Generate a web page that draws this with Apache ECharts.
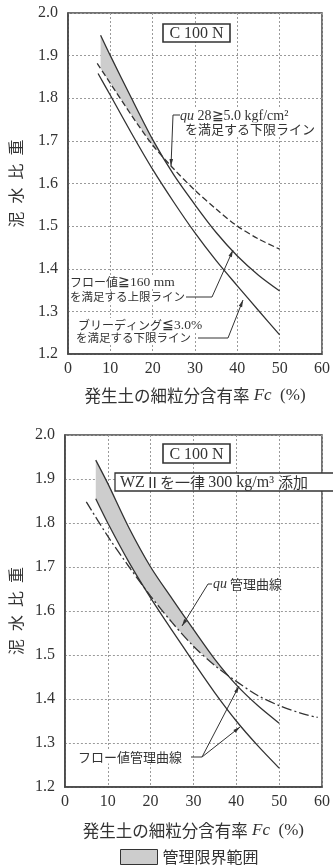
<!DOCTYPE html>
<html>
<head>
<meta charset="utf-8">
<script src="https://cdn.jsdelivr.net/npm/echarts/dist/echarts.min.js"></script>
<style>
html,body{margin:0;padding:0;background:#fff}
#chart{width:333px;height:867px}
</style>
</head>
<body>
<div id="chart"></div>
<script>
// ---- Upper panel: C 100 N ----
const topUpperFc   = [7.7, 10, 15, 20, 25, 30, 35, 40, 45, 50];
const topUpperDens = [1.948, 1.900, 1.800, 1.703, 1.620, 1.550, 1.485, 1.430, 1.385, 1.348];
const topQuFc      = [6.9, 10, 15, 20, 25, 30, 35, 40, 45, 50];
const topQuDens    = [1.882, 1.835, 1.760, 1.690, 1.634, 1.584, 1.540, 1.500, 1.470, 1.446];
const topBleedFc   = [7.1, 10, 15, 20, 25, 30, 35, 40, 45, 50];
const topBleedDens = [1.858, 1.807, 1.718, 1.633, 1.556, 1.484, 1.419, 1.360, 1.302, 1.245];
// shaded control range (upper panel)
const topBandFc   = [7.7, 10, 15, 20, 22.4];
const topBandLow  = [1.870, 1.835, 1.760, 1.690, 1.664];
const topBandHigh = [1.948, 1.900, 1.800, 1.703, 1.664];

// ---- Lower panel: C 100 N + WZII 300 kg/m3 ----
const botUpperFc   = [7.2, 10, 15, 20, 25, 30, 35, 40, 45, 50];
const botUpperDens = [1.943, 1.890, 1.788, 1.700, 1.628, 1.558, 1.490, 1.432, 1.385, 1.345];
const botLowerFc   = [7.2, 10, 15, 20, 25, 30, 35, 40, 45, 50];
const botLowerDens = [1.855, 1.800, 1.710, 1.630, 1.556, 1.484, 1.414, 1.350, 1.294, 1.243];
const botQuFc      = [5, 10, 15, 20, 25, 30, 35, 40, 45, 50, 55, 59];
const botQuDens    = [1.848, 1.770, 1.700, 1.634, 1.574, 1.520, 1.476, 1.440, 1.408, 1.385, 1.368, 1.358];
// shaded control range (lower panel)
const botBandFc   = [7.2, 10, 15, 19.5, 25, 30, 35, 38];
const botBandLow  = [1.855, 1.800, 1.710, 1.640, 1.574, 1.520, 1.476, 1.455];
const botBandHigh = [1.943, 1.890, 1.788, 1.709, 1.628, 1.558, 1.490, 1.455];

// ---- axes ----
const xTicks = [0, 10, 20, 30, 40, 50, 60];
const yTicks = [1.2, 1.3, 1.4, 1.5, 1.6, 1.7, 1.8, 1.9, 2.0];
const xTitle = '{j|発生土の細粒分含有率}{s| }{i|Fc}{s|  }{n|(%)}';
const yTitle = '泥\u2002水\u2002比\u2002重';
const legendName = '管理限界範囲';

const CJK = '"Noto Sans CJK JP"';
const SERIF = '"Liberation Serif"';
const INK = '#333';

const chart = echarts.init(document.getElementById('chart'), null, {renderer: 'canvas'});

function xAxis(grid, gap) {
  return {
    gridIndex: grid, type: 'value',
    min: xTicks[0], max: xTicks[xTicks.length - 1], interval: xTicks[1] - xTicks[0],
    axisLine: {show: true, lineStyle: {color: '#444', width: 1.5}},
    axisTick: {show: false},
    axisLabel: {margin: 7, fontFamily: SERIF, fontSize: 16, color: INK},
    splitLine: {show: true, lineStyle: {type: [2, 2], color: '#9a9a9a', width: 1}},
    name: xTitle, nameLocation: 'middle', nameGap: gap,
    nameTextStyle: {
      color: INK,
      rich: {
        j: {fontFamily: CJK, fontSize: 16.5, color: INK},
        s: {fontFamily: SERIF, fontSize: 17},
        i: {fontFamily: SERIF, fontSize: 17, fontStyle: 'italic', color: INK},
        n: {fontFamily: SERIF, fontSize: 17, color: INK}
      }
    }
  };
}
function yAxis(grid, gap) {
  return {
    gridIndex: grid, type: 'value',
    min: yTicks[0], max: yTicks[yTicks.length - 1], interval: 0.1,
    axisLine: {show: true, lineStyle: {color: '#444', width: 1.5}},
    axisTick: {show: false},
    axisLabel: {margin: 10, fontFamily: SERIF, fontSize: 16, color: INK,
      formatter: v => v.toFixed(1)},
    splitLine: {show: true, lineStyle: {type: [2, 2], color: '#9a9a9a', width: 1}},
    name: yTitle, nameLocation: 'middle', nameRotate: 90, nameGap: gap,
    nameTextStyle: {fontFamily: CJK, fontSize: 16, color: INK}
  };
}
function curve(grid, fc, dens, type) {
  return {
    type: 'line', xAxisIndex: grid, yAxisIndex: grid,
    data: fc.map((x, i) => [x, dens[i]]),
    smooth: 0.3, symbol: 'none', showSymbol: false, silent: true, z: 3,
    lineStyle: {color: INK, width: 1.3, type: type}
  };
}
function band(grid, fc, lo, hi) {
  return {
    type: 'custom', name: legendName, xAxisIndex: grid, yAxisIndex: grid,
    z: 1, silent: true,
    itemStyle: {color: '#cdcdcd'},
    data: fc.map((x, i) => [x, lo[i], hi[i]]),
    encode: {x: 0, y: [1, 2]},
    renderItem(params, api) {
      if (params.dataIndex !== 0) return;
      const upper = fc.map((x, i) => api.coord([x, hi[i]]));
      const lower = fc.map((x, i) => api.coord([x, lo[i]])).reverse();
      return {type: 'polygon', shape: {points: upper.concat(lower)},
              style: {fill: '#cdcdcd'}};
    }
  };
}

// annotation helpers (pixel space)
function leader(pts) {
  const n = pts.length;
  const [x1, y1] = pts[n - 2], [x2, y2] = pts[n - 1];
  const a = Math.atan2(y2 - y1, x2 - x1), L = 7, W = 1.8;
  const bx = x2 - L * Math.cos(a), by = y2 - L * Math.sin(a);
  const tri = [[x2, y2],
    [bx + W * Math.sin(a), by - W * Math.cos(a)],
    [bx - W * Math.sin(a), by + W * Math.cos(a)]];
  return [
    {type: 'polyline', z: 50, shape: {points: pts}, style: {stroke: INK, lineWidth: 1, fill: null}},
    {type: 'polygon', z: 50, shape: {points: tri}, style: {fill: INK}}
  ];
}
function label(x, y, text, size, rich) {
  return {
    type: 'text', z: 40, x: x, y: y,
    style: {
      text: text, font: size + 'px ' + CJK, fill: INK,
      verticalAlign: 'middle', align: 'left',
      backgroundColor: '#fff', padding: [0, 1],
      rich: rich || undefined
    }
  };
}
function box(x, y, w, h, text, size) {
  return [
    {type: 'rect', z: 40, shape: {x: x, y: y, width: w, height: h},
     style: {fill: '#fff', stroke: INK, lineWidth: 1.6}},
    {type: 'text', z: 41, x: x + w / 2, y: y + h / 2 + 1,
     style: {text: text, font: size + 'px ' + SERIF, fill: INK,
             align: 'center', verticalAlign: 'middle'}}
  ];
}

const quRich = {
  i: {fontFamily: SERIF, fontStyle: 'italic', fontSize: 14, color: INK},
  n: {fontFamily: SERIF, fontSize: 14, color: INK},
  j: {fontFamily: CJK, fontSize: 13, color: INK}
};
const numRich = {
  n: {fontFamily: SERIF, fontSize: 13.5, color: INK},
  j: {fontFamily: CJK, fontSize: 12, color: INK}
};
const wzRich = {
  n: {fontFamily: SERIF, fontSize: 16, color: INK},
  j: {fontFamily: CJK, fontSize: 15, color: INK}
};

const graphics = [].concat(
  // upper panel
  box(163, 24, 67, 18, 'C 100 N', 16),
  label(179, 116, '{i|qu}{n| 28≧5.0 kgf/cm²}', 13, quRich),
  label(184, 129, 'を満足する下限ライン', 13),
  leader([[180, 115], [173, 115], [171, 166]]),
  label(69, 282, '{j|フロー値}{n|≧160 mm}', 12, numRich),
  label(69, 297, 'を満足する上限ライン', 11.5),
  leader([[186, 297], [212, 297], [233, 250]]),
  label(77, 325, '{j|ブリーディング}{n|≦3.0%}', 12, numRich),
  label(75, 338, 'を満足する下限ライン', 11.5),
  leader([[198, 338], [228, 338], [243, 300]]),
  // lower panel
  box(163, 444, 67, 19, 'C 100 N', 16),
  [{type: 'rect', z: 40, shape: {x: 115, y: 473, width: 240, height: 18},
    style: {fill: '#fff', stroke: INK, lineWidth: 1.3}},
   {type: 'text', z: 41, x: 120, y: 482.5,
    style: {text: '{n|WZ}{j|Ⅱを一律 }{n|300 kg/m³ }{j|添加}', fill: INK,
            verticalAlign: 'middle', align: 'left', rich: wzRich}}],
  label(212, 584, '{i|qu}{j| 管理曲線}', 12, quRich),
  leader([[212, 584], [208, 584], [182, 626]]),
  label(77, 757, 'フロー値管理曲線', 13),
  leader([[191, 757], [202, 757], [239, 686]]),
  leader([[202, 757], [240, 727]])
);

chart.setOption({
  animation: false,
  backgroundColor: '#ffffff',
  grid: [
    {left: 63, top: 13, width: 262, height: 341, show: true,
     borderColor: '#444', borderWidth: 1.5, backgroundColor: 'transparent'},
    {left: 59, top: 435, width: 271, height: 352, show: true,
     borderColor: '#444', borderWidth: 1.5, backgroundColor: 'transparent'}
  ],
  xAxis: [xAxis(0, 33), xAxis(1, 35)],
  yAxis: [yAxis(0, 44), yAxis(1, 39)],
  legend: {
    data: [{name: legendName, icon: 'rect',
            itemStyle: {color: '#cdcdcd', borderColor: INK, borderWidth: 1}}],
    left: 120, top: 849, itemWidth: 37, itemHeight: 15, padding: 0,
    selectedMode: false,
    textStyle: {fontFamily: CJK, fontSize: 16, color: INK}
  },
  series: [
    band(0, topBandFc, topBandLow, topBandHigh),
    curve(0, topUpperFc, topUpperDens, 'solid'),
    curve(0, topQuFc, topQuDens, [6, 3]),
    curve(0, topBleedFc, topBleedDens, 'solid'),
    band(1, botBandFc, botBandLow, botBandHigh),
    curve(1, botUpperFc, botUpperDens, 'solid'),
    curve(1, botLowerFc, botLowerDens, 'solid'),
    curve(1, botQuFc, botQuDens, [10, 3, 2, 3])
  ],
  graphic: graphics
});
</script>
</body>
</html>
